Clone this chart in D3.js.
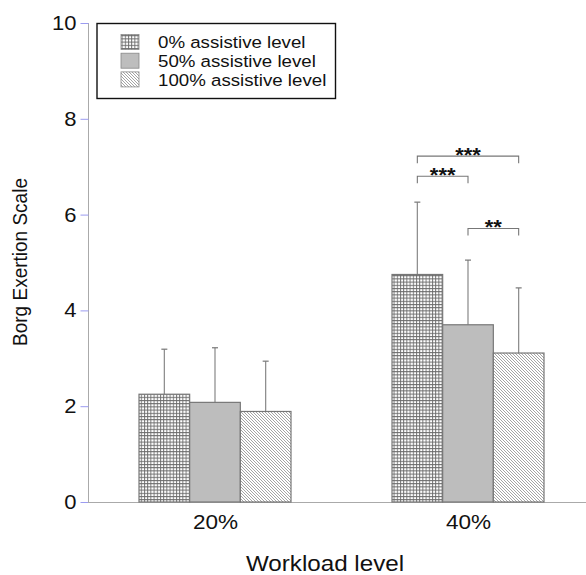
<!DOCTYPE html>
<html>
<head>
<meta charset="utf-8">
<script src="https://cdn.jsdelivr.net/npm/d3@7"></script>
<style>
  body { margin: 0; background: #fff; }
  text { font-family: "Liberation Sans", Arial, sans-serif; fill: #111; }
</style>
</head>
<body>
<div id="chart"></div>
<script>
// data
const groups = ["20%", "40%"];
const series = ["0% assistive level", "50% assistive level", "100% assistive level"];
const means = [[2.25, 2.08, 1.89], [4.75, 3.70, 3.11]];
const sds = [[0.94, 1.14, 1.05], [1.51, 1.35, 1.36]];
const yTicks = [0, 2, 4, 6, 8, 10];
// significance brackets: [group, from series, to series, height, label]
const sig = [[1, 0, 2, 7.22, "***"], [1, 0, 1, 6.80, "***"], [1, 1, 2, 5.71, "**"]];

const W = 586, H = 575;
const stretch = "scale(1.1,1)"; // the original text is a bit wide
const svg = d3.select("#chart").append("svg").attr("width", W).attr("height", H);

const defs = svg.append("defs");
// crosshatch
let p = defs.append("pattern").attr("id", "grid").attr("patternUnits", "userSpaceOnUse")
  .attr("width", 3.2).attr("height", 3.2);
p.append("rect").attr("width", 3.2).attr("height", 3.2).attr("fill", "#fff");
p.append("path").attr("d", "M0,0.5H3.2M0.5,0V3.2").attr("stroke", "#6a6a6a").attr("stroke-width", 0.9);
// diagonal hatch
p = defs.append("pattern").attr("id", "diag").attr("patternUnits", "userSpaceOnUse")
  .attr("width", 3).attr("height", 3);
p.append("rect").attr("width", 3).attr("height", 3).attr("fill", "#fff");
p.append("path").attr("d", "M-1,-1L4,4M-1,2L1,4M2,-1L4,1").attr("stroke", "#9a9a9a").attr("stroke-width", 0.9);

const fills = ["url(#grid)", "#bdbdbd", "url(#diag)"];

const y = d3.scaleLinear().domain([0, 10]).range([502, 23]);
const x0 = d3.scalePoint().domain(groups).range([215, 468]);
const x1 = d3.scaleBand().domain(d3.range(series.length)).range([-76, 76]);

// y axis
const yAxis = svg.append("g").attr("transform", "translate(88.5,0)")
  .call(d3.axisLeft(y).tickValues(yTicks).tickSize(8).tickPadding(3));
yAxis.select(".domain").attr("stroke", "#aaa").attr("d", "M0," + y(10) + "V" + y(0));
yAxis.selectAll(".tick line").attr("stroke", "#9b9bf0");
yAxis.selectAll(".tick text").style("font-size", "20px").attr("fill", "#111")
  .style("font-family", "Liberation Sans, Arial, sans-serif").attr("transform", stretch);

// x axis
const xAxis = svg.append("g").attr("transform", "translate(0," + (y(0) + 0.5) + ")")
  .call(d3.axisBottom(x0).tickSize(0).tickPadding(12));
xAxis.select(".domain").attr("stroke", "#aaa").attr("d", "M88,0H586");
xAxis.selectAll(".tick text").style("font-size", "20.5px").attr("fill", "#111")
  .style("font-family", "Liberation Sans, Arial, sans-serif").attr("transform", stretch);

// bars
const rows = [];
groups.forEach((g, gi) => series.forEach((s, si) =>
  rows.push({ g: g, si: si, m: means[gi][si], sd: sds[gi][si] })));

const bar = svg.append("g").selectAll("g").data(rows).enter().append("g");
bar.append("line")
  .attr("x1", d => x0(d.g) + x1(d.si) + x1.bandwidth() / 2)
  .attr("x2", d => x0(d.g) + x1(d.si) + x1.bandwidth() / 2)
  .attr("y1", d => y(d.m)).attr("y2", d => y(d.m + d.sd))
  .attr("stroke", "#888").attr("stroke-width", 1.2);
bar.append("line")
  .attr("x1", d => x0(d.g) + x1(d.si) + x1.bandwidth() / 2 - 3)
  .attr("x2", d => x0(d.g) + x1(d.si) + x1.bandwidth() / 2 + 3)
  .attr("y1", d => y(d.m + d.sd)).attr("y2", d => y(d.m + d.sd))
  .attr("stroke", "#777").attr("stroke-width", 1.2);
bar.append("rect")
  .attr("x", d => x0(d.g) + x1(d.si))
  .attr("y", d => y(d.m))
  .attr("width", x1.bandwidth())
  .attr("height", d => y(0) - y(d.m))
  .attr("fill", d => fills[d.si])
  .attr("stroke", "#777").attr("stroke-width", 1.2);

// significance brackets
sig.forEach(s => {
  const xa = x0(groups[s[0]]) + x1(s[1]) + x1.bandwidth() / 2;
  const xb = x0(groups[s[0]]) + x1(s[2]) + x1.bandwidth() / 2;
  const yy = y(s[3]);
  svg.append("path").attr("d", `M${xa},${yy + 7}V${yy}H${xb}V${yy + 7}`)
    .attr("fill", "none").attr("stroke", "#777").attr("stroke-width", 1.1);
  svg.append("text").attr("transform", `translate(${(xa + xb) / 2},${yy + 6}) ${stretch}`)
    .attr("text-anchor", "middle").style("font-size", "20px").style("font-weight", "bold")
    .attr("fill", "#222").text(s[4]);
});

// legend
const lg = svg.append("g");
lg.append("rect").attr("x", 97).attr("y", 23.5).attr("width", 238.5).attr("height", 75)
  .attr("fill", "#fff").attr("stroke", "#111").attr("stroke-width", 1.4);
series.forEach((s, i) => {
  lg.append("rect").attr("x", 121).attr("y", 34.5 + i * 18.7).attr("width", 18).attr("height", 15)
    .attr("fill", fills[i]).attr("stroke", "#888").attr("stroke-width", 0.8);
  lg.append("text").attr("transform", `translate(158,${48 + i * 19}) ${stretch}`)
    .style("font-size", "17px").text(s);
});

// axis titles
svg.append("text").attr("transform", `translate(325,571) ${stretch}`).attr("text-anchor", "middle")
  .style("font-size", "22px").text("Workload level");
svg.append("text").attr("transform", "translate(27,262) rotate(-90) scale(1,1.1)").attr("text-anchor", "middle")
  .style("font-size", "19px").text("Borg Exertion Scale");
</script>
</body>
</html>
